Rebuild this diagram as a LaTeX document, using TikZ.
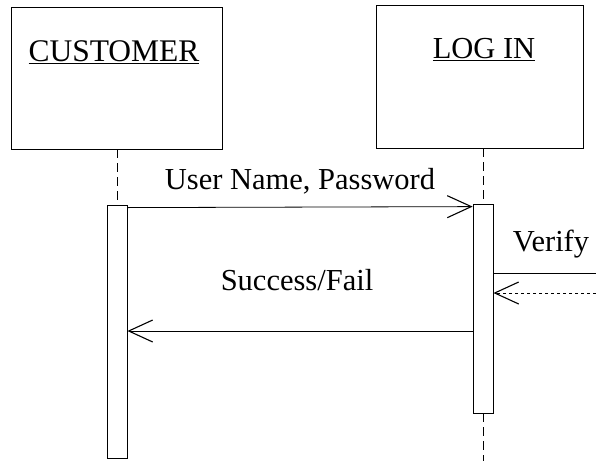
\documentclass[tikz,border=0pt]{standalone}
\usepackage{fontspec}
\setmainfont{Liberation Serif}
\usetikzlibrary{arrows.meta}
\tikzset{
	obj/.style={draw,line width=0.8pt,minimum width=211pt,minimum height=142pt,inner sep=0pt},
	act/.style={draw,line width=0.8pt,minimum width=20pt,inner sep=0pt},
	life/.style={dashed,line width=0.8pt,dash pattern=on 9pt off 5pt},
	msg/.style={line width=0.8pt,-{Straight Barb[length=24pt,width=22pt,line width=1.1pt]}},
	txt/.style={font=\fontsize{30.5}{34}\selectfont,inner sep=0pt}
}
\begin{document}
\begin{tikzpicture}[x=1pt,y=-1pt]
	\useasboundingbox (0,0) rectangle (596,461);
	% objects
	\node[obj](cust) at (116.5,78){};
	\node[obj,minimum width=207pt,minimum height=143pt](login) at (479.5,76.5){};
	\node[txt,font=\fontsize{31.5}{34}\selectfont](custname) at (114,52){\underline{CUSTOMER}};
	\node[txt](loginname) at (484,50){\underline{LOG IN}};
	% activations
	\node[act,minimum height=253pt](custact) at (117,331.5){};
	\node[act,minimum height=209pt](logact) at (483,308.5){};
	\coordinate (logend) at (483,461);
	\draw[life] (cust.south -| custact) -- (custact.north);
	\draw[life] (login.south -| logact) -- (logact.north);
	\draw[life] (logact.south) -- (logend);
	% messages
	\draw[msg] ([yshift=-3pt]custact.north east) -- ([yshift=-3pt]logact.north west)
		node[txt,midway,above=13pt](up){User Name, Password};
	\draw[msg] (logact.west |- 0,331) -- (custact.east |- 0,331)
		node[txt,midway,above=40pt,xshift=-3pt](sf){Success/Fail};
	\coordinate (vin) at (596,273);
	\coordinate (vout) at (596,293);
	\draw[line width=0.8pt] (logact.east |- vin) -- (vin);
	\draw[msg,dashed] (vout) -- (logact.east |- vout);
	\node[txt](verify) at (551,244){Verify};
\end{tikzpicture}
\end{document}
